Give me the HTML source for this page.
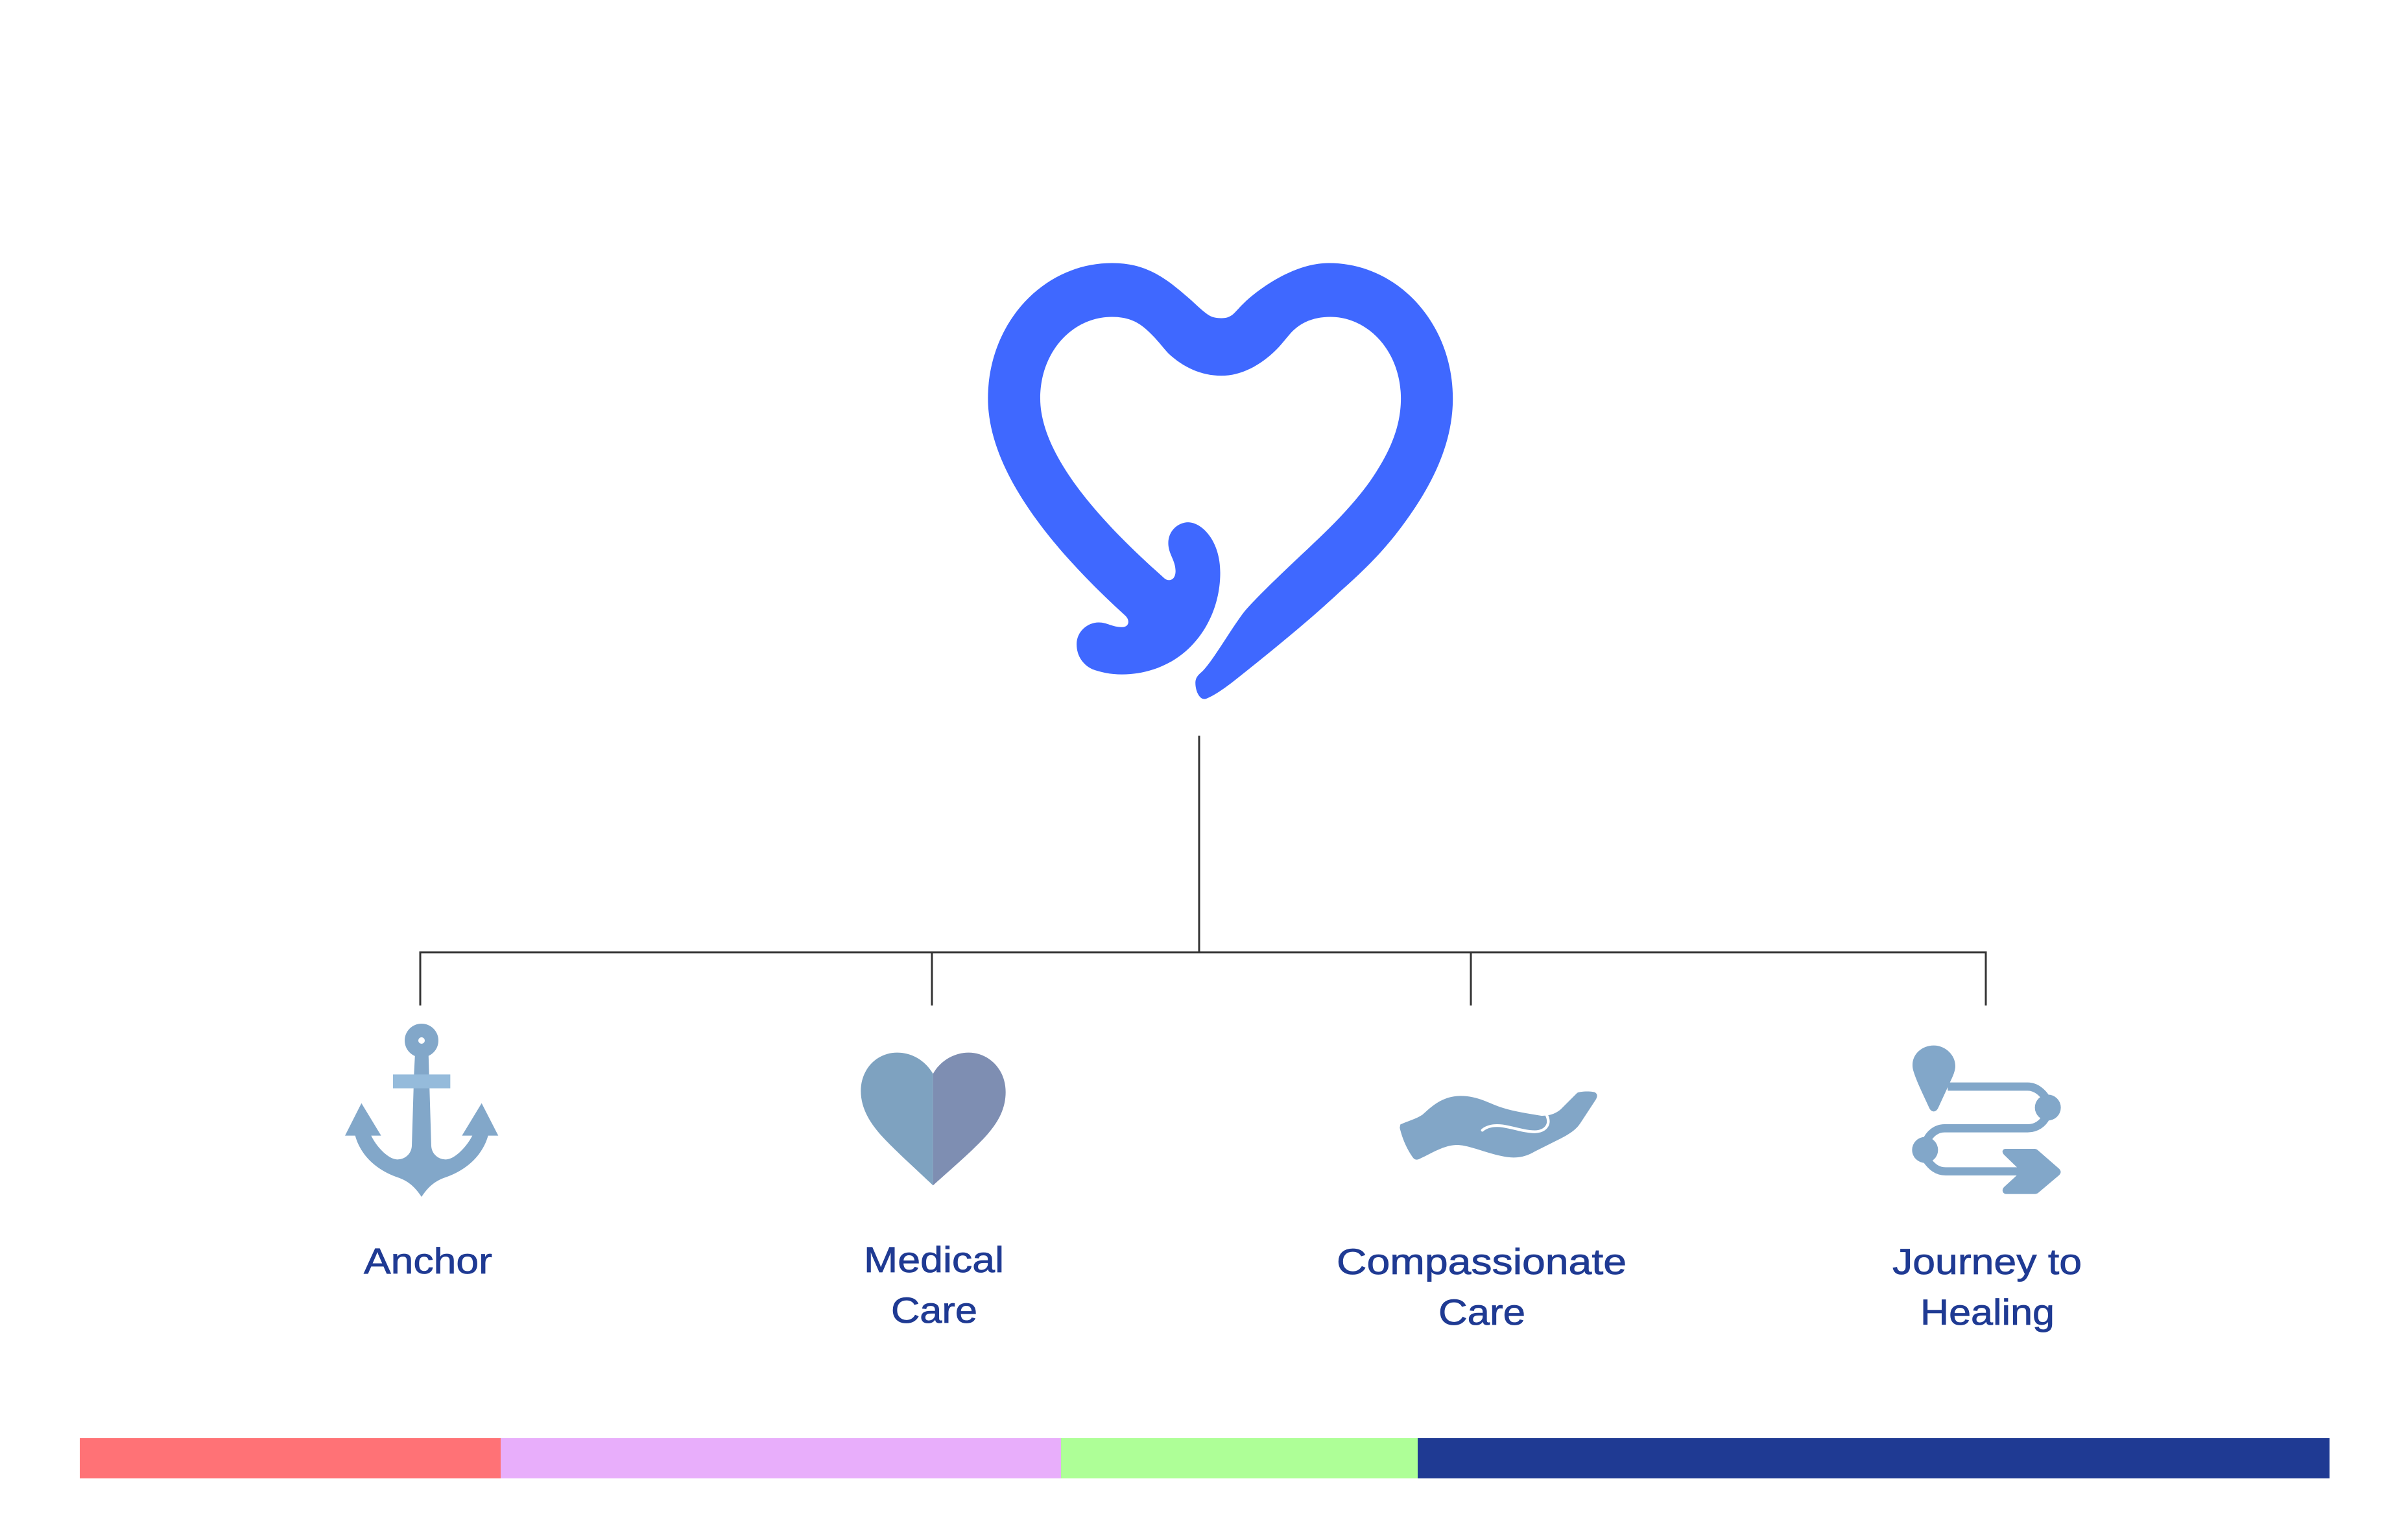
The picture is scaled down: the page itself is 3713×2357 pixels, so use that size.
<!DOCTYPE html>
<html lang="en">
<head>
<meta charset="utf-8">
<title>Diagram</title>
<style>
html,body{margin:0;padding:0;background:#fff;width:3713px;height:2357px;overflow:hidden}
svg{display:block}
text{font-family:"Liberation Sans",sans-serif;font-size:56px;fill:#1f3a93;stroke:#1f3a93;stroke-width:0.8px}
</style>
</head>
<body>
<svg width="3713" height="2357" viewBox="0 0 3713 2357" xmlns="http://www.w3.org/2000/svg">
<rect width="3713" height="2357" fill="#ffffff"/>

<!-- Main heart -->
<g transform="translate(1480 360) scale(0.5102 0.4796)">
<path fill="#3f68ff" d="M790 272 C806 272 815 268 825 260 C835 251 845 237 860 222 C905 177 1010 95 1115 95 C1325 95 1490 290 1490 530 C1490 660 1440 780 1370 890 C1300 1000 1240 1065 1150 1150 C1060 1240 950 1335 850 1420 C810 1454 775 1482 745 1495 C725 1503 712 1470 712 1445 C712 1425 722 1418 735 1405 C770 1365 820 1270 860 1215 C900 1165 990 1075 1060 1005 C1130 935 1200 860 1250 780 C1300 700 1333 620 1333 530 C1333 380 1235 268 1120 268 C1070 268 1030 285 1000 320 C985 338 970 360 950 380 C905 425 850 457 790 457 C730 457 675 430 630 385 C610 362 590 332 560 305 C535 282 505 268 460 268 C340 268 243 380 243 530 C243 720 440 940 615 1105 C630 1122 652 1115 652 1085 C652 1050 630 1030 630 995 C630 955 660 928 690 928 C730 928 787 985 787 1090 C787 1210 730 1320 640 1375 C590 1405 540 1417 490 1417 C455 1417 425 1410 400 1400 C370 1385 353 1355 353 1320 C353 1280 385 1250 420 1250 C445 1250 460 1265 490 1265 C512 1265 515 1243 500 1228 C290 1025 85 770 85 530 C85 290 250 95 460 95 C570 95 630 150 700 215 C730 245 745 258 755 264 C765 270 778 272 790 272 Z"/>
</g>

<!-- Connectors -->
<g fill="none" stroke="#333333" stroke-width="3">
<path d="M1849 1134 V1468"/>
<path d="M648 1550 V1468 H3062 V1550"/>
<path d="M1437 1468 V1550"/>
<path d="M2268 1468 V1550"/>
</g>

<!-- Anchor -->
<g transform="translate(480 1540) scale(0.33333)">
<path fill="#82a7c9" d="M480 250 L542 250 L545 350 L555 680 C558 720 590 742 622 742 C660 742 715 690 745 632 L697 632 L788 482 L865 632 L818 632 C790 730 710 795 620 825 C570 842 540 870 510 915 C480 870 450 842 400 825 C310 795 230 730 203 632 L156 632 L232 482 L323 632 L277 632 C305 690 360 742 398 742 C430 742 462 720 465 680 L475 350 Z"/>
<circle cx="510" cy="192" r="78" fill="#82a7c9"/>
<circle cx="510" cy="192" r="15" fill="#ffffff"/>
<rect x="378" y="349" width="265" height="64" fill="#95bbdb"/>
</g>

<!-- Medical heart -->
<g transform="translate(1280 1580) scale(0.33333)">
<path fill="#7ea2c0" d="M476 226 C440 165 380 128 310 128 C215 128 142 205 142 305 C142 390 190 460 240 515 C300 580 400 670 476 742 Z"/>
<path fill="#7e8eb2" d="M476 226 C510 165 575 128 640 128 C735 128 812 205 812 310 C812 395 770 460 715 520 C650 590 550 675 476 742 Z"/>
</g>

<!-- Hand -->
<g transform="translate(2120 1640) scale(0.33333)">
<path fill="#82a6c7" d="M118 280 C150 265 190 255 220 235 C265 195 310 150 395 148 C480 148 530 185 590 203 C650 222 710 230 770 240 C800 240 830 235 860 210 L935 135 C945 126 1010 125 1020 133 C1030 140 1030 150 1022 165 L950 275 C930 305 900 325 850 350 L740 405 C690 435 640 440 580 425 C510 410 430 375 380 375 C320 375 260 415 215 435 C195 447 185 445 175 432 C145 390 125 340 115 295 Z"/>
<path fill="none" stroke="#ffffff" stroke-width="13" stroke-linecap="round" d="M497 307 C520 287 550 282 590 287 C640 294 690 314 740 314 C790 312 815 280 795 238"/>
</g>

<!-- Journey -->
<g transform="translate(2920 1590) scale(0.33333)">
<path fill="none" stroke="#82a7c9" stroke-width="38" d="M250 255 L620 255 C660 255 690 285 705 310 L713 352 L705 395 C690 425 660 448 620 448 L235 448 C195 448 165 475 150 510 L145 548 L150 590 C175 625 200 647 240 647 L600 647"/>
<path fill="#82a7c9" d="M185 65 C240 65 285 110 285 160 C285 180 275 205 265 225 L205 355 C195 375 175 375 165 355 C140 300 110 240 95 195 C88 175 87 165 87 155 C87 105 130 65 185 65 Z"/>
<circle cx="713" cy="352" r="60" fill="#82a7c9"/>
<circle cx="145" cy="548" r="60" fill="#82a7c9"/>
<path fill="#82a7c9" d="M515 543 L650 543 C660 543 665 547 670 552 L765 635 C775 645 775 655 765 665 L670 745 C665 750 655 752 650 752 L520 752 C505 750 497 735 510 720 L570 665 L570 628 L510 570 C497 555 505 545 515 543 Z"/>
</g>

<!-- Labels -->
<text x="561" y="1963" textLength="198" lengthAdjust="spacingAndGlyphs">Anchor</text>
<text x="1332" y="1961" textLength="216" lengthAdjust="spacingAndGlyphs">Medical</text>
<text x="1374" y="2039" textLength="133" lengthAdjust="spacingAndGlyphs">Care</text>
<text x="2061" y="1964" textLength="447" lengthAdjust="spacingAndGlyphs">Compassionate</text>
<text x="2218" y="2042" textLength="134" lengthAdjust="spacingAndGlyphs">Care</text>
<text x="2918" y="1964" textLength="292" lengthAdjust="spacingAndGlyphs">Journey to</text>
<text x="2961" y="2042" textLength="207" lengthAdjust="spacingAndGlyphs">Healing</text>

<!-- Bottom colour bar -->
<rect x="123" y="2217" width="649" height="62" fill="#ff7276"/>
<rect x="772" y="2217" width="864" height="62" fill="#e8aefb"/>
<rect x="1636" y="2217" width="550" height="62" fill="#aeff97"/>
<rect x="2186" y="2217" width="1406" height="62" fill="#1f3a93"/>
</svg>
</body>
</html>
